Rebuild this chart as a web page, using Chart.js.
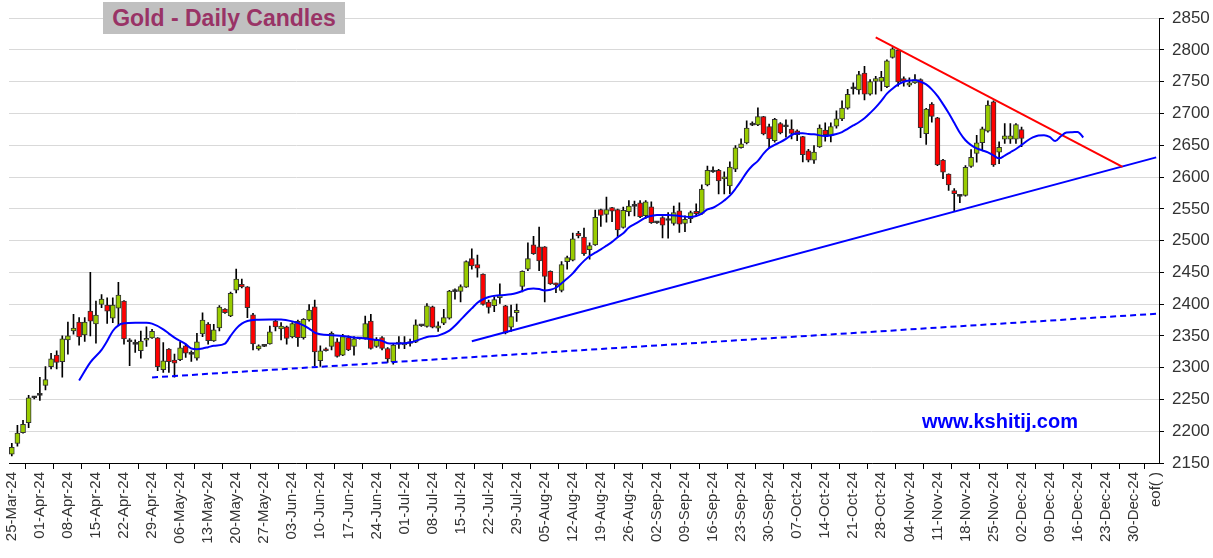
<!DOCTYPE html>
<html>
<head>
<meta charset="utf-8">
<script src="https://cdn.jsdelivr.net/npm/chart.js@4.4.0/dist/chart.umd.min.js"></script>
<style>
  body { margin: 0; background: #fff; }
  #wrap { position: relative; width: 1213px; height: 558px; }
  #title {
    position: absolute; left: 103px; top: 2px; width: 242px; height: 32px;
    background: #c0c0c0; color: #993366; text-align: center;
    font: bold 23px 'Liberation Sans', Arial, sans-serif; line-height: 33px;
  }
  #site {
    position: absolute; left: 922px; top: 410px; color: #0000ff;
    font: bold 20px 'Liberation Sans', Arial, sans-serif;
  }
</style>
</head>
<body>
<div id="wrap">
  <canvas id="goldChart" width="1213" height="558"></canvas>
  <div id="title">Gold - Daily Candles</div>
  <div id="site">www.kshitij.com</div>
</div>
<script>
// Monday labels, 5 trading-day slots per week; last slot of last week is eof()
const weekLabels = ['25-Mar-24', '01-Apr-24', '08-Apr-24', '15-Apr-24', '22-Apr-24', '29-Apr-24',
  '06-May-24', '13-May-24', '20-May-24', '27-May-24', '03-Jun-24', '10-Jun-24', '17-Jun-24',
  '24-Jun-24', '01-Jul-24', '08-Jul-24', '15-Jul-24', '22-Jul-24', '29-Jul-24', '05-Aug-24',
  '12-Aug-24', '19-Aug-24', '26-Aug-24', '02-Sep-24', '09-Sep-24', '16-Sep-24', '23-Sep-24',
  '30-Sep-24', '07-Oct-24', '14-Oct-24', '21-Oct-24', '28-Oct-24', '04-Nov-24', '11-Nov-24',
  '18-Nov-24', '25-Nov-24', '02-Dec-24', '09-Dec-24', '16-Dec-24', '23-Dec-24', '30-Dec-24'];
const endLabel = 'eof( )';

const openP = [2164, 2180.7, 2197.9, 2213.6, 2252.6, 2256.3, 2271.9, 2301.6, 2319.8, 2309.4,
  2343.7, 2357.8, 2371.9, 2351.6, 2389.1, 2368.8, 2399.5, 2398.4, 2378.1, 2393.8,
  2404.7, 2341.6, 2337.4, 2326.6, 2343.2, 2346.9, 2346.9, 2296.9, 2329.2, 2312,
  2312.5, 2334.4, 2321.8, 2315.1, 2353.1, 2368.8, 2342.2, 2362.5, 2392.2, 2381.3,
  2421.9, 2431.3, 2427.1, 2383.3, 2329.7, 2333.5, 2337.5, 2373.4, 2361, 2364.1,
  2348.4, 2372.9, 2347.4, 2375, 2395.8, 2310.9, 2329.7, 2333.3, 2340.6, 2319.8,
  2347.4, 2333.3, 2345.5, 2346.9, 2373.4, 2333.3, 2347.4, 2330.2, 2309.4, 2337,
  2336, 2341, 2340.2, 2366.4, 2364.9, 2395.9, 2362, 2370.1, 2377.8, 2421,
  2420.1, 2426.8, 2471.6, 2462.4, 2447.4, 2403.1, 2397.4, 2410.3, 2397.4, 2363.9,
  2386.6, 2427.9, 2455.2, 2493.3, 2490.2, 2490.2, 2451.6, 2432, 2421.7, 2467,
  2469.1, 2511.4, 2505.7, 2485.6, 2493.3, 2549, 2541.3, 2552.1, 2549, 2520.7,
  2545.5, 2554.6, 2559.4, 2539.3, 2553.2, 2528.8, 2536.2, 2532.4, 2526.9, 2547,
  2526.9, 2534.6, 2546, 2542.9, 2587.8, 2608.8, 2610.5, 2597.1, 2586.2, 2612.5,
  2646.1, 2653.8, 2682.6, 2682.2, 2695.1, 2679.6, 2657.4, 2684.3, 2680, 2675.5,
  2672.9, 2663.6, 2641.4, 2626.5, 2647.6, 2673.9, 2665.7, 2680.1, 2691.5, 2708.6,
  2739.5, 2737, 2763.8, 2730.3, 2750.4, 2750.4, 2742.1, 2788.1, 2800, 2755.1,
  2744.7, 2748.3, 2753.5, 2668.2, 2714.8, 2693.1, 2626.9, 2604.7, 2578.8, 2570.5,
  2571.1, 2616.6, 2637.2, 2654.3, 2672.4, 2718.4, 2639, 2659.7, 2659.7, 2659.7,
  2674.7];
const highP = [2181, 2209.4, 2217.2, 2256.3, 2255, 2284.9, 2301.6, 2322.4, 2326.6, 2350,
  2371.9, 2383.9, 2378.7, 2378.7, 2450, 2404.7, 2415.1, 2409.9, 2409.9, 2434.4,
  2405.5, 2345.9, 2343.7, 2357.8, 2364.1, 2360.4, 2347.5, 2339.6, 2330.2, 2321.4,
  2340.6, 2337, 2326.6, 2354.2, 2386.5, 2370.8, 2368.2, 2397.9, 2393.2, 2418.8,
  2455.2, 2439.6, 2427.6, 2385.4, 2336, 2334.5, 2365.6, 2375, 2370.8, 2365.6,
  2370.8, 2375, 2377.1, 2399.5, 2406.2, 2334.4, 2331.3, 2356.3, 2345.9, 2352.6,
  2350, 2349, 2346.5, 2381.3, 2383.9, 2347.4, 2349, 2331.8, 2337, 2349,
  2349, 2345, 2375.2, 2367.5, 2401, 2396.9, 2372, 2391.7, 2421.6, 2424,
  2430.4, 2468, 2487.1, 2477.3, 2447.8, 2406.2, 2411.4, 2432, 2398, 2398.5,
  2400, 2452.6, 2496.4, 2506.7, 2521.2, 2490.7, 2452.6, 2433, 2467, 2475.8,
  2511.9, 2514.5, 2519.6, 2496.4, 2548, 2549.5, 2568.6, 2552.5, 2549.5, 2552.7,
  2563, 2562, 2563, 2563, 2561, 2530, 2537.7, 2543.9, 2554.2, 2559.4,
  2538.8, 2546.5, 2557.9, 2587.8, 2617.2, 2616.2, 2612, 2608.4, 2623.9, 2649.7,
  2660, 2688.4, 2686.9, 2709, 2695.6, 2683.2, 2692.5, 2685.8, 2690, 2690,
  2674.5, 2664, 2643.5, 2649.7, 2682.2, 2685.3, 2685.3, 2704.4, 2719.9, 2738,
  2748.3, 2766.4, 2774.2, 2753.5, 2758.7, 2766.4, 2784.5, 2803.6, 2800.5, 2757.6,
  2756.1, 2761.3, 2754.5, 2708, 2717.3, 2694.1, 2627.9, 2605.2, 2581.9, 2572.6,
  2618.1, 2643.4, 2665.7, 2678.6, 2719.9, 2719.9, 2655.5, 2684, 2684, 2684,
  2678.8];
const lowP = [2161, 2176.6, 2197, 2205.7, 2251, 2248.5, 2265.1, 2297.9, 2297.9, 2284.9,
  2321.4, 2352.6, 2335.4, 2341.2, 2350, 2338.5, 2394.3, 2369.8, 2370.8, 2365.6,
  2337, 2303.1, 2324, 2315.1, 2333.3, 2345.9, 2295.3, 2292.7, 2292.7, 2284.9,
  2311, 2316.2, 2309.9, 2312, 2349, 2337, 2341.2, 2357.8, 2385.4, 2380.2,
  2417.7, 2425.5, 2378.7, 2328.1, 2327.6, 2333, 2337, 2357.8, 2343.7, 2337,
  2346.9, 2333.3, 2344.8, 2373.4, 2303.1, 2302.1, 2326, 2328.1, 2316.7, 2318.8,
  2326.6, 2319.8, 2345, 2344.8, 2329.2, 2331.8, 2328.1, 2308.3, 2305.7, 2330.2,
  2330, 2334, 2339.2, 2365, 2363.9, 2362.4, 2357, 2367.5, 2376.3, 2408,
  2403.6, 2426.3, 2455.1, 2442.3, 2398.4, 2385.6, 2388.2, 2401, 2353, 2357.2,
  2372.7, 2419.1, 2452.6, 2478.4, 2452.6, 2403.6, 2431, 2418.1, 2419.1, 2455.2,
  2468.1, 2504.2, 2476.8, 2470.6, 2492.3, 2522.2, 2528.9, 2529.9, 2505.2, 2519.7,
  2538.8, 2538.8, 2536.2, 2535.1, 2526.9, 2527, 2504.2, 2503.7, 2524.3, 2513,
  2514, 2528.4, 2538.8, 2541.3, 2586.2, 2607.4, 2573.3, 2573.3, 2573.8, 2608.4,
  2645.6, 2652.3, 2680.7, 2680.7, 2666.2, 2645.6, 2654.9, 2667.8, 2662.6, 2660,
  2657.4, 2623.9, 2623.9, 2621.3, 2646.5, 2656.4, 2655.3, 2677, 2688.9, 2707,
  2730.3, 2730.3, 2721.5, 2728.7, 2730.3, 2735.4, 2740.6, 2787.1, 2743.2, 2743.2,
  2742.1, 2747.3, 2662, 2651.2, 2686.3, 2618.1, 2597.4, 2578.8, 2545.8, 2559.7,
  2570.1, 2615, 2623.3, 2642.4, 2670.8, 2616.6, 2620.9, 2653, 2653, 2653,
  2647.8];
const closeP = [2174.5, 2196.9, 2211, 2252.6, 2253.4, 2257.2, 2281.3, 2314.1, 2308.3, 2345.3,
  2350, 2362.5, 2348.4, 2371.9, 2373.4, 2382.8, 2407.8, 2389.1, 2398.4, 2414.1,
  2345.3, 2340.8, 2336.6, 2341.7, 2345.9, 2357.3, 2301.6, 2310.9, 2309.4, 2307.3,
  2331.2, 2322.9, 2321, 2340.6, 2375, 2342.7, 2359.4, 2395.3, 2386.5, 2417.2,
  2439.6, 2427.1, 2394.3, 2337.5, 2334.4, 2334.2, 2356.3, 2364.1, 2365.6, 2345.9,
  2369.3, 2347.4, 2376, 2390.6, 2325, 2326.6, 2326.6, 2354.2, 2317.7, 2349,
  2328.1, 2345.3, 2346.2, 2369.3, 2330.2, 2343.2, 2330.2, 2313.6, 2335.4, 2339.6,
  2338, 2338, 2367.5, 2366, 2397.4, 2363.9, 2366, 2378.9, 2420.6, 2419.6,
  2427.8, 2467, 2460.3, 2456.7, 2399.5, 2394.9, 2407.2, 2413.9, 2354.7, 2380.4,
  2390.2, 2451.6, 2471.7, 2479.4, 2468.1, 2443.8, 2432, 2430.4, 2462.4, 2473.2,
  2502.6, 2507.2, 2479.4, 2492.3, 2536.6, 2539.7, 2549, 2546.4, 2517, 2547.5,
  2554.2, 2553.8, 2537.7, 2561, 2528.4, 2528, 2524.3, 2531.6, 2543.9, 2525.9,
  2533.6, 2543.9, 2542.4, 2581.1, 2610.5, 2608, 2594, 2599.1, 2615.7, 2646.1,
  2652.3, 2677.1, 2681.8, 2695.1, 2667.8, 2660, 2691, 2669.3, 2679.2, 2668.8,
  2666.7, 2635.3, 2626.5, 2639.4, 2677, 2666.7, 2679.6, 2691.5, 2708.6, 2730.3,
  2738.7, 2761.3, 2730.3, 2750.4, 2755.1, 2757.1, 2783, 2801.6, 2749.9, 2750.9,
  2748.3, 2753.5, 2677.6, 2707, 2695.6, 2619.2, 2607.8, 2587.6, 2573.7, 2569.7,
  2615.5, 2631, 2653.8, 2676, 2713.2, 2619.2, 2646.8, 2664.8, 2664.8, 2682.4,
  2660.7];

// moving average line at these trading-day numbers (1 = 25-Mar)
const maDay = [13, 15, 17, 18, 19, 20, 21, 23, 25, 26, 28, 29, 30, 31, 32, 33, 34, 35, 36, 37,
  39, 40, 41, 42, 43, 45, 47, 49, 51, 53, 54, 55, 56, 58, 60, 62, 64, 66, 67, 68,
  70, 72, 74, 75, 77, 79, 80, 81, 82, 83, 84, 85, 86, 88, 90, 91, 92, 93, 94, 95,
  96, 97, 98, 99, 100, 101, 102, 103, 104, 105, 106, 107, 108, 109, 110, 111, 112, 113, 114, 115,
  116, 118, 120, 122, 123, 124, 125, 126, 127, 128, 129, 130, 131, 132, 133, 134, 135, 136, 137, 138,
  139, 140, 141, 142, 143, 144, 146, 148, 149, 150, 151, 152, 153, 154, 155, 156, 157, 158, 159, 160,
  161, 162, 163, 164, 165, 166, 167, 168, 169, 170, 171, 172, 173, 174, 175, 176, 177, 178, 179, 180,
  181, 182, 183, 184, 185, 186, 187, 188, 189, 190, 191, 192];
const maVal = [2279.7, 2308.3, 2328, 2342, 2357.8, 2366.7, 2369.8, 2370.8, 2370.8, 2369.3,
  2360.4, 2353.6, 2347.4, 2342.2, 2337, 2330.2, 2329.2, 2330.2, 2332.3, 2334.5,
  2338, 2350, 2361.5, 2369.3, 2373.4, 2375.5, 2376, 2376, 2372.9, 2366.7,
  2361.5, 2355.2, 2352.6, 2351, 2350, 2347.4, 2345.9, 2343.7, 2342.2, 2338.5,
  2338, 2339.5, 2345.3, 2348.4, 2350.5, 2358.2, 2366, 2375.2, 2384.5, 2393.3,
  2402.1, 2407.7, 2411.3, 2413.9, 2415.5, 2417.5, 2420.6, 2423.7, 2424.7, 2423.7,
  2421.6, 2422.7, 2425.8, 2433, 2440.2, 2448.4, 2458.8, 2468.1, 2475.8, 2480.9,
  2486.1, 2492, 2498, 2505.2, 2511.4, 2520.7, 2525.9, 2531, 2536.2, 2538.8,
  2540.3, 2540.3, 2538.8, 2537.2, 2538.8, 2542.4, 2549.1, 2551.7, 2556.8, 2563,
  2570.7, 2581.6, 2594, 2607.4, 2617.7, 2625.5, 2636.8, 2645.6, 2650.7, 2654.9,
  2660, 2666.2, 2668.8, 2669, 2667.8, 2667.2, 2664.6, 2667.7, 2670.8, 2676,
  2681.2, 2686.3, 2692.5, 2700.8, 2709.6, 2719.9, 2731.3, 2739.1, 2745.8, 2749.9,
  2752, 2752.5, 2749.9, 2745.8, 2738, 2727.7, 2714.8, 2700.8, 2685.3, 2669.8,
  2657.9, 2650.2, 2645, 2641.9, 2638.8, 2634, 2629.6, 2633.8, 2639, 2644.2,
  2650.4, 2657.1, 2662.3, 2665.4, 2665.9, 2663.3, 2656.6, 2664.3, 2670, 2670.5,
  2671, 2662.3];

// trend lines: end points as [trading-day number, price]
const resistanceLine = [[155, 2820], [199, 2616]];
const supportLine = [[83, 2341.7], [205, 2631]];
const longSupportLine = [[26, 2284.7], [205, 2384.8]];

const yTicks = { min: 2150, max: 2850, step: 50 };

// build category slots
const labels = [];
weekLabels.forEach((w, k) => {
  for (let d = 0; d < 5; d++) {
    labels.push(d === 0 ? w : '');
  }
});
labels[labels.length - 1] = endLabel;

const n = labels.length;
const wicks = [], bodies = [], bodyColors = [];
for (let i = 0; i < n; i++) {
  if (i < openP.length) {
    wicks.push([lowP[i], highP[i]]);
    bodies.push([Math.min(openP[i], closeP[i]), Math.max(openP[i], closeP[i])]);
    const diff = closeP[i] - openP[i];
    bodyColors.push(Math.abs(diff) < 1.5 ? '#222222' : (diff > 0 ? '#99cc00' : '#ff0000'));
  } else {
    wicks.push(null);
    bodies.push(null);
    bodyColors.push('#99cc00');
  }
}

const ma = new Array(n).fill(null);
maDay.forEach((d, k) => { ma[d - 1] = maVal[k]; });

function lineData(points) {
  const arr = new Array(n).fill(null);
  points.forEach(p => { arr[p[0] - 1] = p[1]; });
  return arr;
}

const fontFamily = "'Liberation Sans', Arial, sans-serif";

const ctx = document.getElementById('goldChart').getContext('2d');
const goldChart = new Chart(ctx, {
  type: 'bar',
  data: {
    labels: labels,
    datasets: [
      {
        type: 'line',
        data: ma,
        borderColor: '#0000ff',
        borderWidth: 2,
        pointRadius: 0,
        spanGaps: true,
        cubicInterpolationMode: 'monotone',
        order: 0
      },
      {
        type: 'line',
        data: lineData(resistanceLine),
        borderColor: '#ff0000',
        borderWidth: 2,
        pointRadius: 0,
        spanGaps: true,
        order: 0
      },
      {
        type: 'line',
        data: lineData(supportLine),
        borderColor: '#0000ff',
        borderWidth: 2,
        pointRadius: 0,
        spanGaps: true,
        order: 0
      },
      {
        type: 'line',
        data: lineData(longSupportLine),
        borderColor: '#0000ff',
        borderWidth: 2,
        borderDash: [6, 4],
        pointRadius: 0,
        spanGaps: true,
        order: 0
      },
      {
        data: bodies,
        backgroundColor: bodyColors,
        borderColor: '#333333',
        borderWidth: 1,
        borderSkipped: false,
        barThickness: 5,
        minBarLength: 2,
        grouped: false,
        order: 1
      },
      {
        data: wicks,
        backgroundColor: '#000000',
        borderWidth: 0,
        barThickness: 1,
        grouped: false,
        order: 2
      }
    ]
  },
  options: {
    responsive: false,
    animation: false,
    layout: { padding: { left: 9, top: 10, right: 0, bottom: 0 } },
    plugins: {
      legend: { display: false },
      tooltip: { enabled: false }
    },
    scales: {
      x: {
        grid: { drawOnChartArea: false, tickLength: 6, tickColor: '#000' },
        border: { color: '#000' },
        ticks: {
          autoSkip: false,
          minRotation: 90,
          maxRotation: 90,
          padding: 3,
          color: '#333',
          font: { family: fontFamily, size: 15 },
          callback: function (value) {
            const l = this.getLabelForValue(value);
            return l === '' ? null : l;
          }
        },
        afterFit: function (scale) { scale.height = 95; }
      },
      y: {
        position: 'right',
        min: yTicks.min,
        max: yTicks.max,
        grid: { color: '#d9d9d9', tickLength: 5, tickColor: '#000' },
        border: { color: '#000' },
        ticks: {
          stepSize: yTicks.step,
          padding: 8,
          color: '#333',
          font: { family: fontFamily, size: 17 },
          callback: function (value) { return String(value); }
        },
        afterFit: function (scale) { scale.width = 54; }
      }
    }
  }
});
</script>
</body>
</html>
